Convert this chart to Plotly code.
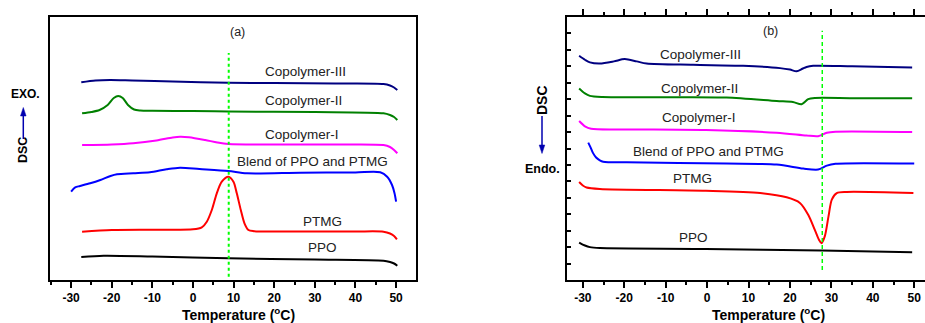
import plotly.graph_objects as go

# ---------------- Panel (a): cooling scans (exo up) ----------------
cop3_a_T = [-27.5, -24, -20.4, -15, -5, 8.7, 20, 35, 46.9, 48.5, 49.5, 50.3]
cop3_a_y = [19.77, 19.95, 20.0, 19.95, 19.85, 19.73, 19.7, 19.65, 19.6, 19.45, 19.25, 19.0]

cop2_a_T = [-27.3, -25, -23, -21, -19.5, -18.4, -17.3, -16, -14.5, -13, -10, 0, 8.7, 30, 46.9, 48.5, 49.5, 50.3]
cop2_a_y = [16.67, 16.8, 17.0, 17.5, 18.2, 18.4, 18.2, 17.5, 17.05, 16.95, 16.92, 16.9, 16.85, 16.8, 16.67, 16.5, 16.3, 16.0]

cop1_a_T = [-27.3, -20, -14.7, -9, -5, -3.2, -1, 3, 6, 8.7, 20, 35, 46.9, 48.5, 49.5, 50.3]
cop1_a_y = [13.5, 13.55, 13.67, 13.95, 14.25, 14.33, 14.28, 14.0, 13.75, 13.6, 13.55, 13.55, 13.5, 13.3, 13.0, 12.67]

blend_a_T = [-30, -29, -27.8, -25.3, -22.8, -20.3, -18.7, -14.7, -10.6, -6.5, -3.2, 1.6, 8.7, 13.3, 26.4, 40, 46.1, 47.8, 49, 49.6, 50]
blend_a_y = [8.83, 9.27, 9.4, 9.67, 10.0, 10.4, 10.57, 10.67, 10.77, 11.07, 11.23, 11.1, 10.9, 10.67, 10.73, 10.76, 10.77, 10.33, 9.5, 8.7, 7.83]

ptmg_a_T = [-27.3, -20, -10, 0, 2.17, 3.4, 4.63, 5.86, 7.09, 8.73, 9.96, 10.78, 11.77, 12.67, 13.65, 15, 25, 40, 46.9, 48.5, 49.5, 50.2]
ptmg_a_y = [4.83, 5.0, 5.03, 5.07, 5.27, 5.83, 7.0, 8.67, 9.83, 10.33, 9.83, 8.67, 7.0, 5.67, 5.0, 4.88, 4.85, 4.85, 4.83, 4.65, 4.4, 4.07]

ppo_a_T = [-27.5, -22, -10, 8.7, 30, 46.9, 48.5, 49.5, 50.3]
ppo_a_y = [2.3, 2.43, 2.35, 2.17, 2.05, 1.93, 1.8, 1.65, 1.43]

tc_a = 8.8            # crystallisation temperature marker (panel a)
tc_a_span = [0.33, 22.7]

# ---------------- Panel (b): heating scans (endo down) ----------------
cop3_b_T = [-30.9, -29.5, -28.3, -25.9, -22.5, -19.9, -17, -14.6, -3.4, 8.7, 17.6, 20, 21.6, 23, 24.0, 25.6, 35, 49.5]
cop3_b_y = [13.64, 13.4, 13.24, 13.17, 13.3, 13.44, 13.3, 13.17, 13.09, 13.03, 12.89, 12.8, 12.70, 12.85, 12.96, 13.03, 13.0, 12.93]

cop2_b_T = [-30.9, -29.5, -28.3, -25.3, -10, 4.7, 16.8, 20.7, 22.8, 24.4, 26, 35, 49.5]
cop2_b_y = [11.65, 11.35, 11.2, 11.13, 11.12, 11.1, 10.89, 10.83, 10.69, 11.0, 11.07, 11.06, 11.05]

cop1_b_T = [-30.9, -29.5, -28, -19.8, -0.3, 16.8, 24, 26.8, 28.9, 31, 49.5]
cop1_b_y = [9.67, 9.35, 9.2, 9.16, 9.12, 8.96, 8.79, 8.75, 8.96, 9.02, 9.0]

blend_b_T = [-28.7, -28.2, -27.6, -26.8, -25.9, -25.1, -19.4, 4.7, 16.8, 23.2, 26.8, 28.9, 31, 50]
blend_b_y = [8.36, 8.1, 7.75, 7.45, 7.28, 7.2, 7.16, 7.08, 7.02, 6.78, 6.72, 6.96, 7.07, 7.08]

ptmg_b_T = [-30.9, -30, -29.1, -25.9, -0.3, 12.8, 19.2, 22.4, 24.4, 26.0, 27.0, 27.6, 28.4, 29.3, 30.1, 31.3, 33.7, 49.8]
ptmg_b_y = [5.96, 5.75, 5.63, 5.54, 5.43, 5.29, 5.03, 4.69, 3.97, 3.05, 2.45, 2.24, 2.65, 3.87, 4.89, 5.29, 5.36, 5.29]

ppo_b_T = [-30.9, -29.5, -28.3, -25.9, -0.3, 27.6, 49.5]
ppo_b_y = [2.28, 2.1, 2.0, 1.94, 1.89, 1.79, 1.69]

tm_b = 27.8           # melting temperature marker (panel b)
tm_b_span = [0.61, 15.16]

labels = ["Copolymer-III", "Copolymer-II", "Copolymer-I", "Blend of PPO and PTMG", "PTMG", "PPO"]
colors = ["#000080", "#008000", "#ff00ff", "#0000ff", "#ff0000", "#000000"]

tick_vals = [-30, -20, -10, 0, 10, 20, 30, 40, 50]
tick_text = ["<b>%d</b>" % v for v in tick_vals]

# label anchor positions (data coords)
lab_a_T = [27.6, 27.1, 26.8, 29.3, 31.8, 31.8]
lab_a_y = [20.9, 18.0, 14.6, 11.83, 5.9, 3.3]
lab_b_T = [-1.7, -1.86, -1.86, 0.31, -3.46, -3.31]
lab_b_y = [13.70, 11.65, 9.88, 7.84, 6.15, 2.61]

FONT = "Arial, Liberation Sans, sans-serif"

fig = go.Figure()

series_a = [(cop3_a_T, cop3_a_y), (cop2_a_T, cop2_a_y), (cop1_a_T, cop1_a_y),
            (blend_a_T, blend_a_y), (ptmg_a_T, ptmg_a_y), (ppo_a_T, ppo_a_y)]
series_b = [(cop3_b_T, cop3_b_y), (cop2_b_T, cop2_b_y), (cop1_b_T, cop1_b_y),
            (blend_b_T, blend_b_y), (ptmg_b_T, ptmg_b_y), (ppo_b_T, ppo_b_y)]

for (T, y), name, c in zip(series_a, labels, colors):
    fig.add_trace(go.Scatter(x=T, y=y, mode="lines", name=name,
                             line=dict(color=c, width=2, shape="spline", smoothing=0.8),
                             xaxis="x", yaxis="y", showlegend=False))
for (T, y), name, c in zip(series_b, labels, colors):
    fig.add_trace(go.Scatter(x=T, y=y, mode="lines", name=name,
                             line=dict(color=c, width=2, shape="spline", smoothing=0.8),
                             xaxis="x2", yaxis="y2", showlegend=False))

fig.add_trace(go.Scatter(x=[tc_a, tc_a], y=tc_a_span, mode="lines",
                         line=dict(color="#00ff00", width=2, dash="dot"),
                         xaxis="x", yaxis="y", showlegend=False))
fig.add_trace(go.Scatter(x=[tm_b, tm_b], y=tm_b_span, mode="lines",
                         line=dict(color="#00ff00", width=1.5, dash="4px,3px"),
                         xaxis="x2", yaxis="y2", showlegend=False))

ann = []
for t, T, y in zip(labels, lab_a_T, lab_a_y):
    ann.append(dict(text=t, x=T, y=y, xref="x", yref="y", showarrow=False,
                    xanchor="center", yanchor="middle",
                    font=dict(family=FONT, size=13.5, color="#222")))
for t, T, y in zip(labels, lab_b_T, lab_b_y):
    ann.append(dict(text=t, x=T, y=y, xref="x2", yref="y2", showarrow=False,
                    xanchor="center", yanchor="middle",
                    font=dict(family=FONT, size=13.5, color="#222")))

W, H = 925, 323
def px(x): return x / W
def py(y): return 1 - y / H

def note(text, x, y, size, bold=False, angle=0, color="#000"):
    return dict(text=("<b>%s</b>" % text) if bold else text, x=px(x), y=py(y),
                xref="paper", yref="paper", showarrow=False, textangle=angle,
                xanchor="center", yanchor="middle",
                font=dict(family=FONT, size=size, color=color))

ann += [
    note("(a)", 237, 32, 12.5, color="#222"),
    note("(b)", 770, 31, 12.5, color="#222"),
    note("EXO.", 25, 94, 12, bold=True),
    note("DSC", 23, 150, 12.5, bold=True, angle=-90),
    note("DSC", 542, 100, 14, bold=True, angle=-90),
    note("Endo.", 542.7, 169, 12.5, bold=True),
    note("Temperature (<sup>o</sup>C)", 238.7, 314.2, 14, bold=True),
    note("Temperature (<sup>o</sup>C)", 768.3, 314.2, 14, bold=True),
]

ARROW = "#0000b0"
shapes = [
    # panel (a) arrow: pointing up
    dict(type="line", xref="paper", yref="paper", x0=px(23.3), x1=px(23.3), y0=py(139), y1=py(113),
         line=dict(color=ARROW, width=1.5)),
    dict(type="path", xref="paper", yref="paper",
         path="M %f %f L %f %f L %f %f Z" % (px(23.3), py(107.5), px(20.5), py(116), px(26.1), py(116)),
         fillcolor=ARROW, line=dict(color=ARROW, width=0.5)),
    # panel (b) arrow: pointing down
    dict(type="line", xref="paper", yref="paper", x0=px(542), x1=px(542), y0=py(116), y1=py(147),
         line=dict(color=ARROW, width=1.5)),
    dict(type="path", xref="paper", yref="paper",
         path="M %f %f L %f %f L %f %f Z" % (px(542), py(153.5), px(539.2), py(145), px(544.8), py(145)),
         fillcolor=ARROW, line=dict(color=ARROW, width=0.5)),
]

ydom = [43 / H, 306 / H]
tickfont = dict(family=FONT, size=12, color="#000", weight="bold")

fig.update_layout(
    width=W, height=H, margin=dict(l=0, r=0, t=0, b=0),
    paper_bgcolor="white", plot_bgcolor="white",
    annotations=ann, shapes=shapes,
    xaxis=dict(domain=[50 / W, 416 / W], range=[-35.2, 54.9], anchor="y",
               showline=True, linecolor="black", linewidth=2, mirror=True,
               ticks="outside", ticklen=6, tickwidth=2, tickcolor="black",
               tickmode="array", tickvals=tick_vals, ticktext=tick_text,
               showgrid=False, zeroline=False, tickfont=tickfont,
               minor=dict(dtick=5, tick0=0, ticks="outside", ticklen=3, tickwidth=2,
                          tickcolor="black", showgrid=False)),
    yaxis=dict(domain=ydom, range=[0, 26.3], anchor="x",
               showline=True, linecolor="black", linewidth=2, mirror=True,
               ticks="", showticklabels=False, showgrid=False, zeroline=False),
    xaxis2=dict(domain=[566.7 / W, 1.0], range=[-33.9, 52.6], anchor="y2",
                showline=True, linecolor="black", linewidth=2, mirror="ticks",
                ticks="outside", ticklen=6, tickwidth=2, tickcolor="black",
                tickmode="array", tickvals=tick_vals, ticktext=tick_text,
                showgrid=False, zeroline=False, tickfont=tickfont,
                minor=dict(dtick=5, tick0=0, ticks="outside", ticklen=3, tickwidth=2,
                           tickcolor="black", showgrid=False)),
    yaxis2=dict(domain=ydom, range=[0, 16], anchor="x2",
                showline=True, linecolor="black", linewidth=2, mirror=False,
                ticks="inside", ticklen=4, tickwidth=1.5, tickcolor="black",
                dtick=1, tick0=0, showticklabels=False, showgrid=False, zeroline=False),
)

fig.write_html("out.html", config={"displayModeBar": False},
               post_script="document.body.style.margin='0';document.body.style.overflow='hidden';")
